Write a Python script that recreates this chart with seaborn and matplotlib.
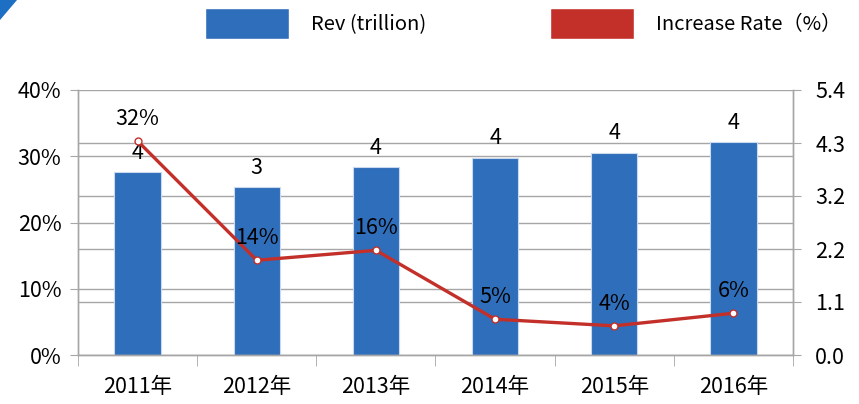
import numpy as np
import pandas as pd
import matplotlib
matplotlib.use("Agg")
import matplotlib.pyplot as plt
from matplotlib.patches import Patch, Polygon
import seaborn as sns

# data
years = ["2011年", "2012年", "2013年", "2014年", "2015年", "2016年"]
revenue = [3.73, 3.42, 3.83, 4.02, 4.12, 4.34]      # trillion, right axis
increase_rate = [32.3, 14.3, 15.8, 5.4, 4.4, 6.3]   # %, left axis

rev_ticks = [0, 1.08, 2.16, 3.24, 4.32, 5.4]
rate_ticks = [0, 10, 20, 30, 40]

BLUE = "#2F6EBA"
RED = "#C3302A"
GRID = "#A6A6A6"

sns.set_style("white")
plt.rcParams["font.family"] = ["Noto Sans CJK SC", "DejaVu Sans"]
plt.rcParams["text.color"] = "black"

df = pd.DataFrame({"year": years, "revenue": revenue, "rate": increase_rate})

fig = plt.figure(figsize=(8.59, 4.04), dpi=100)
ax = fig.add_axes([78 / 859, 1 - 355 / 404, (793 - 78) / 859, (355 - 90) / 404])
ax2 = ax.twinx()

# bars on the primary axes (drawn underneath), ticks moved to the right
sns.barplot(data=df, x="year", y="revenue", ax=ax, color=BLUE, width=0.39,
            edgecolor="#C9D9EE", linewidth=0.8, saturation=1)
ax.set_ylim(0, 5.4)
ax.set_xlim(-0.5, 5.5)
ax.set_yticks(rev_ticks)
ax.set_yticklabels([f"{t:.1f}" for t in rev_ticks])
# left axis grid lines drawn as minor ticks on the bar axes so bars cover them
ax.set_yticks([t / 40 * 5.4 for t in rate_ticks], minor=True)
ax.grid(axis="y", which="both", color=GRID, linewidth=1)
ax.set_axisbelow(True)
ax.yaxis.tick_right()
ax.tick_params(axis="y", which="major", length=6, color=GRID, pad=10, labelsize=15.5,
               labelcolor="black", right=True)
ax.tick_params(axis="y", which="minor", length=0)
ax.bar_label(ax.containers[0], fmt="%.0f", padding=6, fontsize=15.5)

# x ticks: labels at centres, tick marks between categories
ax.set_xticks(range(len(years)))
ax.set_xticklabels(years)
ax.set_xticks(np.arange(-0.5, len(years), 1), minor=True)
ax.tick_params(axis="x", which="major", length=0, pad=15, labelsize=15.5, labelcolor="black")
ax.tick_params(axis="x", which="minor", length=8, color=GRID, bottom=True)
ax.set_xlabel("")
ax.set_ylabel("")

# line on the twin axes, ticks moved to the left
sns.lineplot(data=df, x="year", y="rate", ax=ax2, color=RED, linewidth=2.4,
             marker="o", markersize=5, markerfacecolor="white",
             markeredgecolor=RED, markeredgewidth=1, sort=False)
ax2.set_ylim(0, 40)
ax2.set_yticks(rate_ticks)
ax2.set_yticklabels([f"{t}%" for t in rate_ticks])
ax2.yaxis.tick_left()
ax2.tick_params(axis="y", length=6, color=GRID, pad=6, labelsize=15.5,
                labelcolor="black", left=True)
ax2.set_ylabel("")
ax2.set_xlabel("")
for i, v in enumerate(increase_rate):
    ax2.annotate(f"{v:.0f}%", (i, v), xytext=(0, 8), textcoords="offset points",
                 ha="center", va="bottom", fontsize=15.5)

for a in (ax, ax2):
    a.spines["top"].set_visible(False)
    for s in ("left", "right", "bottom"):
        a.spines[s].set_color(GRID)
        a.spines[s].set_linewidth(1)

handles = [Patch(facecolor=BLUE, label="Rev (trillion)"),
           Patch(facecolor=RED, label="Increase Rate（%）")]
fig.legend(handles=handles, loc="upper center", bbox_to_anchor=(0.609, 1.025),
           ncol=2, frameon=False, fontsize=14.5, handlelength=4.2, handleheight=2.0,
           handletextpad=1.1, columnspacing=6.1)

# blue corner mark in the top-left
fig.patches.append(Polygon([(0, 1), (17 / 859, 1), (0, 1 - 20 / 404)],
                           closed=True, transform=fig.transFigure,
                           facecolor="#1C6FC2", edgecolor="none"))

fig.savefig("out.png", dpi=100)
